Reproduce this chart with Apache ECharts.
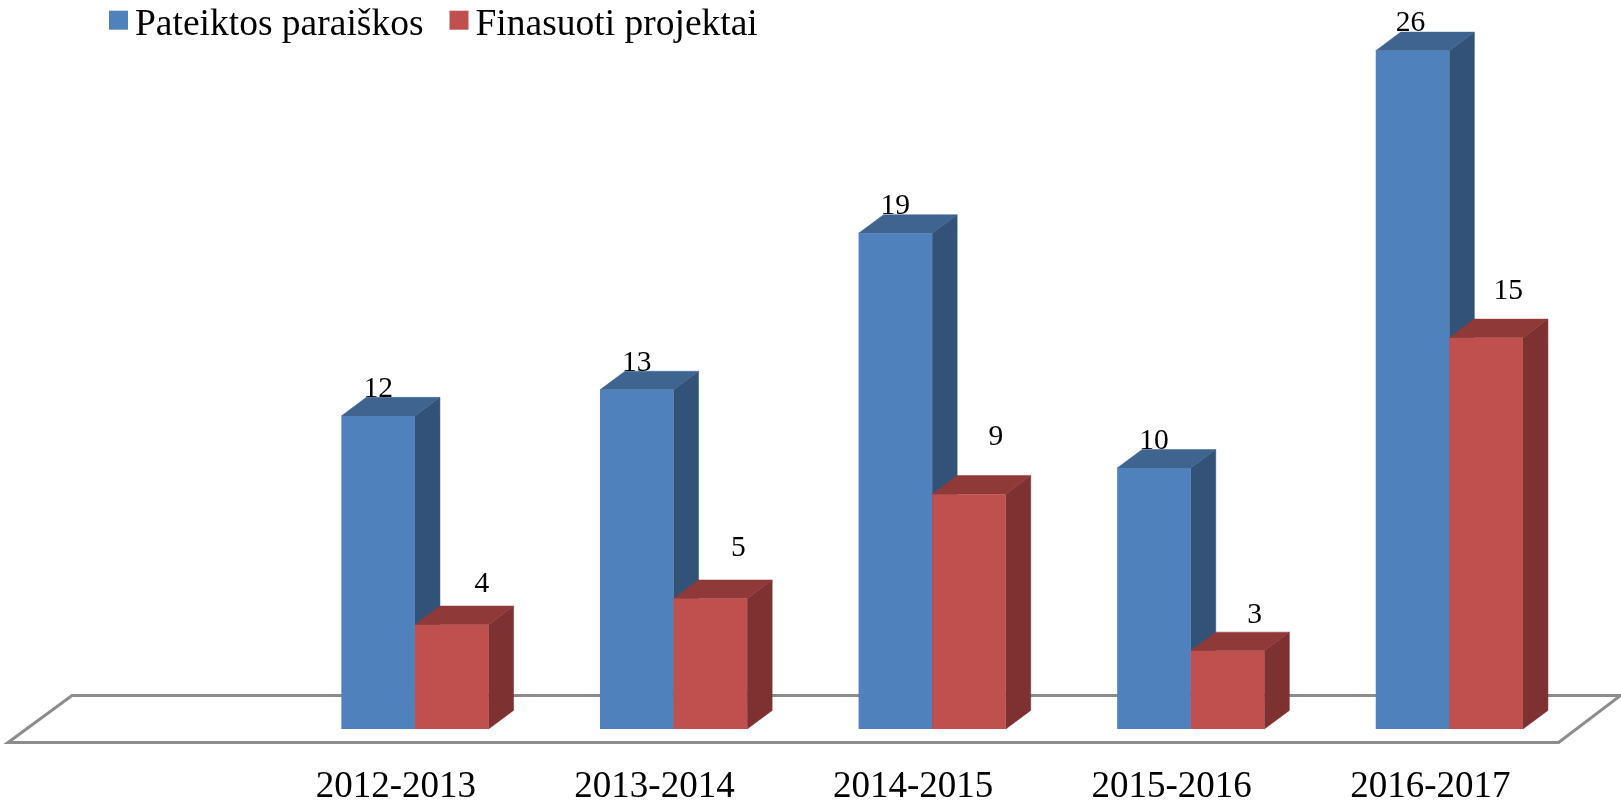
<!DOCTYPE html>
<html><head><meta charset="utf-8">
<style>html,body{margin:0;padding:0;background:#fff}#c{width:1621px;height:803px}</style>
<script src="https://cdn.jsdelivr.net/npm/echarts@6/dist/echarts.min.js"></script>
</head><body><div id="c"></div>
<script>
const categories = ['', '2012-2013', '2013-2014', '2014-2015', '2015-2016', '2016-2017'];
const seriesNames = ['Pateiktos paraiškos', 'Finasuoti projektai'];
const submitted = [null, 12, 13, 19, 10, 26];
const funded = [null, 4, 5, 9, 3, 15];

const FONT = '"Liberation Serif","Times New Roman",serif';
const DEPTH_X = 25, DEPTH_Y = 18.6;
const BAR_FRAC = 0.2846, SHIFT_FRAC = 0.0737;
const looks = [
  {front:'#4f81bd', side:'#325277', top:'#3e6490'},
  {front:'#c0504d', side:'#7d3231', top:'#8f3a38'}
];
// hand placed value labels in the source chart: [dx, dy] from the top-centre of the front face
const labelNudge = [
  [[0,-27],[0,-27],[0,-27],[0,-27],[0,-27],[-2,-27]],
  [[0,0],[30,-40],[28,-50],[27,-57],[27,-35],[22,-46]]
];

function barRender(si){
  return function(params, api){
    const cat = api.value(0), val = api.value(1);
    const catW = api.size([1,0])[0];
    const w = catW * BAR_FRAC;
    const c = api.coord([cat, val]);
    const base = api.coord([cat, 0]);
    const groupLeft = c[0] + catW*SHIFT_FRAC - w;
    const x0 = groupLeft + si*w, x1 = x0 + w, yT = c[1], yB = base[1];
    const L = looks[si], n = labelNudge[si][cat];
    const poly = (pts, fill) => ({type:'polygon', shape:{points:pts}, style:{fill, stroke:fill, lineWidth:0.5}});
    return {type:'group', children:[
      poly([[x1,yT],[x1+DEPTH_X,yT-DEPTH_Y],[x1+DEPTH_X,yB-DEPTH_Y],[x1,yB]], L.side),
      poly([[x0,yT],[x0+DEPTH_X,yT-DEPTH_Y],[x1+DEPTH_X,yT-DEPTH_Y],[x1,yT]], L.top),
      {type:'rect', shape:{x:x0,y:yT,width:w,height:yB-yT}, style:{fill:L.front}},
      {type:'text', style:{x:(x0+x1)/2+n[0], y:yT+n[1], text:String(val), fill:'#000', font:'29.5px '+FONT, textAlign:'center', textVerticalAlign:'middle'}}
    ]};
  };
}
function floorRender(params, api){
  const r = params.coordSys;
  const base = api.coord([0,0])[1];
  const fy = base + 13.5, by = base - 33.5;
  const pts = [[r.x, fy],[r.x+r.width-1, fy],[r.x+r.width+61, by],[r.x+64, by]];
  return {type:'polygon', shape:{points:pts}, style:{fill:'#fff', stroke:'#8c8c8c', lineWidth:3}, silent:true};
}
const toData = arr => arr.map((v,i)=>[i,v]).filter(d=>d[1]!==null);
const chart = echarts.init(document.getElementById('c'), null, {renderer:'canvas'});
chart.setOption({
  animation:false,
  backgroundColor:'#fff',
  grid:{left:8, top:50.7, width:1551.6, height:678.3, outerBoundsMode:'none'},
  legend:{
    data:seriesNames, left:104, top:1.2, itemWidth:19, itemHeight:19, itemGap:26,
    icon:'rect', selectedMode:false,
    formatter:n=>'{a|'+n+'}',
    textStyle:{fontFamily:FONT, fontSize:37.5, color:'#000', rich:{a:{fontFamily:FONT, fontSize:37.5, color:'#000', padding:[10,0,0,2]}}}
  },
  xAxis:{type:'category', data:categories,
    axisLine:{show:false}, axisTick:{show:false}, splitLine:{show:false},
    axisLabel:{interval:0, margin:40, fontFamily:FONT, fontSize:37, color:'#000', hideOverlap:false}},
  yAxis:{type:'value', min:0, max:26, show:false},
  series:[
    {type:'custom', name:'floor', data:[[0,0]], renderItem:floorRender, clip:false, z:1, silent:true},
    {type:'custom', name:seriesNames[0], data:toData(submitted), renderItem:barRender(0), clip:false, z:2, itemStyle:{color:looks[0].front}, encode:{x:0,y:1}},
    {type:'custom', name:seriesNames[1], data:toData(funded), renderItem:barRender(1), clip:false, z:3, itemStyle:{color:looks[1].front}, encode:{x:0,y:1}}
  ]
});
</script></body></html>
